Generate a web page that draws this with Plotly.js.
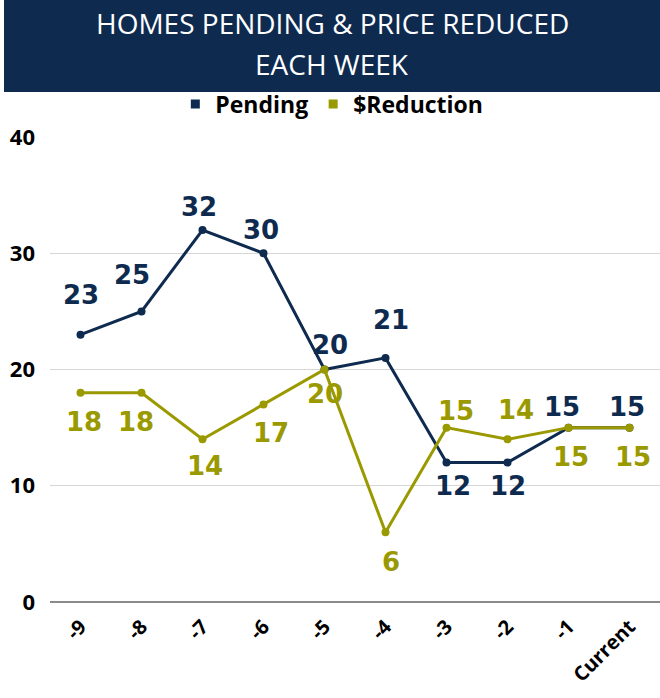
<!DOCTYPE html>
<html>
<head>
<meta charset="utf-8">
<script src="https://cdn.plot.ly/plotly-3.0.1.min.js"></script>
<style>html,body{margin:0;padding:0;background:#fff}#chart{width:660px;height:698px}</style>
</head>
<body>
<div id="chart"></div>
<script>
// ---- data ----
const weeks = ["-9", "-8", "-7", "-6", "-5", "-4", "-3", "-2", "-1", "Current"];
const pending = [23, 25, 32, 30, 20, 21, 12, 12, 15, 15];
const reduction = [18, 18, 14, 17, 20, 6, 15, 14, 15, 15];
const yTicks = [0, 10, 20, 30, 40];

// ---- styling ----
const NAVY = "#0e2b4f";
const OLIVE = "#9a9900";
const labelFont = "DejaVu Sans, sans-serif";
// label offsets (dx, dy in px; dy down positive)
const pendingShift = [[0,-40],[-10,-36],[-4,-23],[-3,-23],[5,-25],[5,-38],[6,23],[0,23],[-7,-21],[-3,-21]];
const reductionShift = [[3,29],[-6,29],[2,27],[7,29],[0,24],[5,30],[9,-17],[8,-29],[2,29],[3,29]];

const traces = [
  {type:"scatter", mode:"lines+markers", x:weeks, y:pending, name:"Pending", showlegend:false,
   line:{color:NAVY, width:3}, marker:{color:NAVY, size:8}, hoverinfo:"skip"},
  {type:"scatter", mode:"lines+markers", x:weeks, y:reduction, name:"$Reduction", showlegend:false,
   line:{color:OLIVE, width:3}, marker:{color:OLIVE, size:8}, hoverinfo:"skip"},
  {type:"scatter", mode:"markers", x:[null], y:[null], name:"Pending",
   marker:{color:NAVY, size:9, symbol:"square"}},
  {type:"scatter", mode:"markers", x:[null], y:[null], name:"$Reduction",
   marker:{color:OLIVE, size:9, symbol:"square"}}
];

const annotations = [];
function addLabels(vals, shifts, color){
  vals.forEach((v,i)=>{
    annotations.push({x:i, y:v, xref:"x", yref:"y", text:String(v), showarrow:false,
      xshift:shifts[i][0], yshift:-shifts[i][1], xanchor:"center", yanchor:"middle",
      font:{family:labelFont, size:26, color:color, weight:700}});
  });
}
addLabels(pending, pendingShift, NAVY);
addLabels(reduction, reductionShift, OLIVE);

// title lines
const titleLines = ["HOMES PENDING &amp; PRICE REDUCED", "EACH WEEK"];
const titleY = [23, 64];
const H = 698, T = 137, B = 96, PH = H - T - B;
titleLines.forEach((t,i)=>{
  annotations.push({xref:"paper", yref:"paper", x:(332-50)/610, y:1 + (T - titleY[i])/PH,
    text:t, showarrow:false, xanchor:"center", yanchor:"middle",
    font:{family:"Open Sans, sans-serif", size:28, color:"#ffffff"}});
});

const layout = {
  width:660, height:698,
  margin:{l:50, r:0, t:T, b:B},
  paper_bgcolor:"#ffffff", plot_bgcolor:"#ffffff",
  showlegend:true,
  legend:{orientation:"h", x:0.462, xanchor:"center", y:1 + (T-104)/PH, yanchor:"middle",
    font:{family:"Open Sans, sans-serif", size:23, color:"#000", weight:700},
    itemclick:false, itemdoubleclick:false, bgcolor:"rgba(0,0,0,0)"},
  xaxis:{type:"category", range:[-0.5, 9.5], autorange:false, tickangle:-45, showgrid:false,
    zeroline:false, showline:false,
    tickfont:{family:"Open Sans, sans-serif", size:20, color:"#000", weight:700},
    ticks:"", ticklabelstandoff:8, fixedrange:true},
  yaxis:{range:[0,40], autorange:false, tickvals:yTicks, showgrid:true, gridcolor:"#d6d6d6", gridwidth:1,
    zeroline:true, zerolinecolor:"#8a8a8a", zerolinewidth:1.5, showline:false, ticks:"",
    ticklabelstandoff:14,
    tickfont:{family:"Open Sans, sans-serif", size:22, color:"#000", weight:700}, fixedrange:true},
  shapes:[{type:"rect", xref:"paper", yref:"paper", layer:"below",
    x0:(4-50)/610, x1:1, y0:1 + (T-92)/PH, y1:1 + T/PH,
    fillcolor:NAVY, line:{width:0}}],
  annotations:annotations
};

Plotly.newPlot("chart", traces, layout, {displayModeBar:false, staticPlot:true});
</script>
</body>
</html>
